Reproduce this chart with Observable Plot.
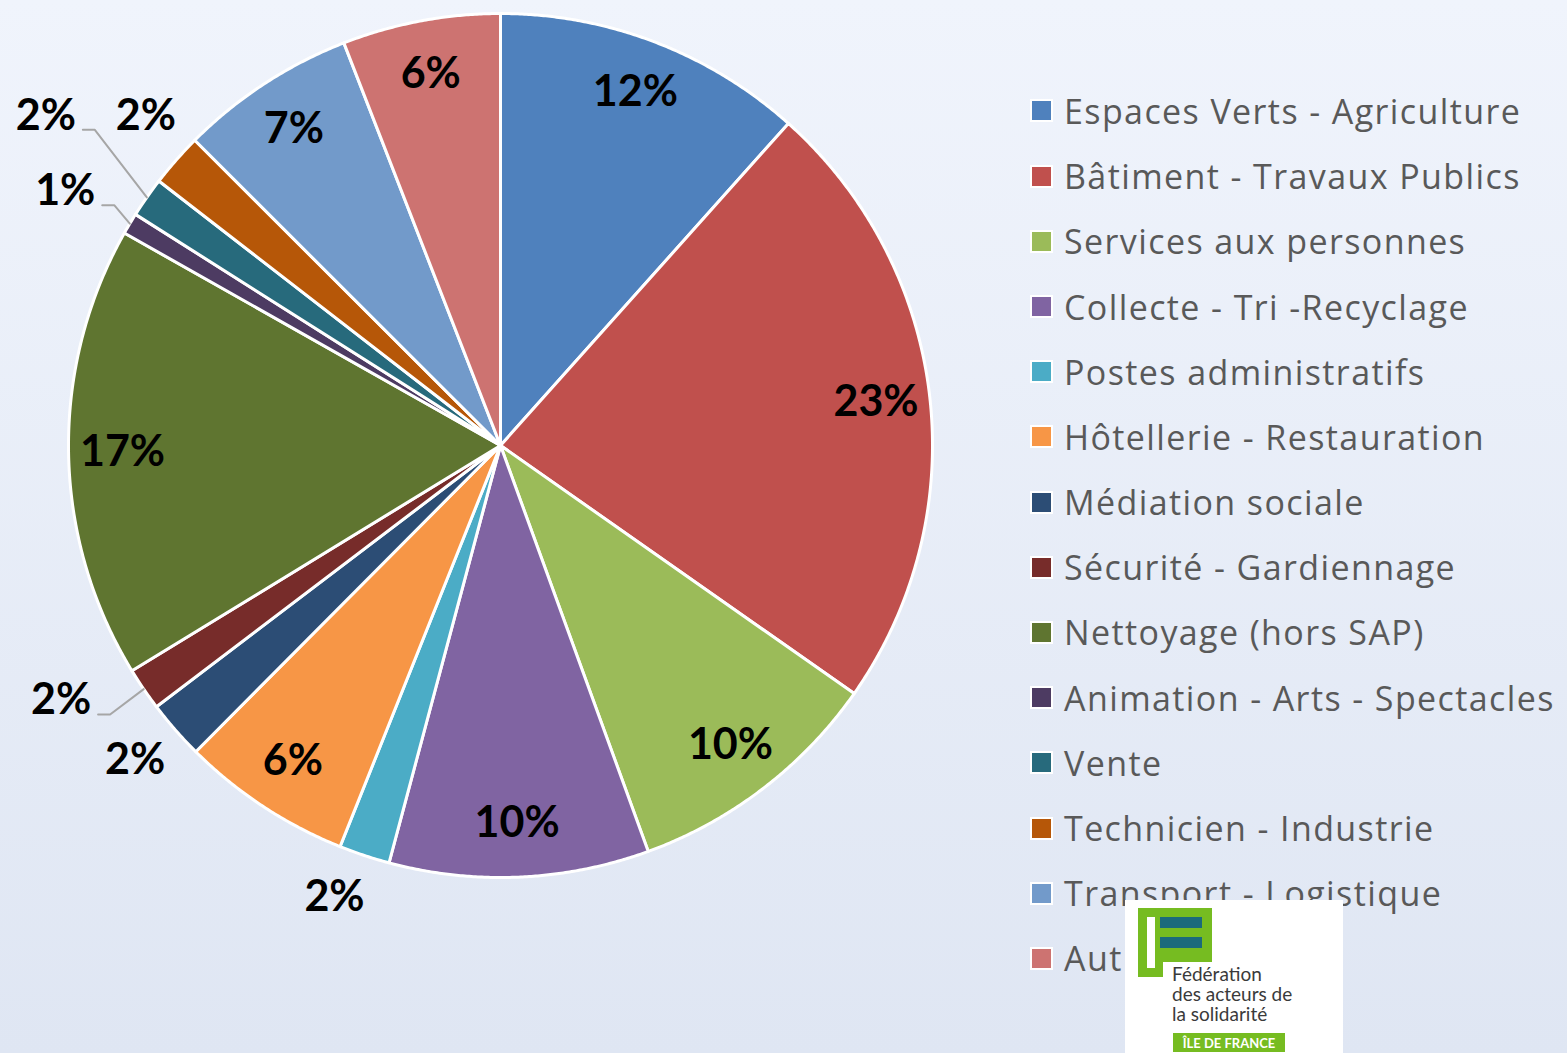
<!DOCTYPE html>
<html><head><meta charset="utf-8">
<script src="https://cdn.jsdelivr.net/npm/d3@7"></script>
<script src="https://cdn.jsdelivr.net/npm/@observablehq/plot@0.6"></script>
<style>
body{margin:0;}
#page{position:relative;width:1567px;height:1053px;overflow:hidden;background:linear-gradient(#F0F4FC,#DFE6F3);font-family:Lato,"Open Sans",sans-serif;}
#chart{position:absolute;left:0;top:0;}
#legend{position:absolute;left:1030px;top:78.4px;}
.row{height:65.2px;display:flex;align-items:center;white-space:nowrap;}
.sw{width:19px;height:19px;border:2.5px solid #fff;margin-right:11px;box-sizing:content-box;}
.lab{font-family:"Open Sans",sans-serif;font-size:34px;letter-spacing:1.4px;color:#595959;}
#logo{position:absolute;left:1125px;top:900px;width:218px;height:153px;background:#fff;}
</style></head>
<body><div id="page"><div id="chart"></div><div id="legend"></div>
<div id="logo">
<svg width="218" height="153" xmlns="http://www.w3.org/2000/svg">
<rect x="13" y="8" width="74" height="54" fill="#76BC21"/>
<rect x="13" y="8" width="25" height="69" fill="#76BC21"/>
<rect x="22" y="17" width="8" height="51" fill="#fff"/>
<rect x="35" y="17" width="42" height="11" fill="#1B6B7B"/>
<rect x="35" y="37" width="42" height="11" fill="#1B6B7B"/>
<text x="47" y="81" font-family="Lato" font-size="19" fill="#3a3a3a">Fédération</text>
<text x="47" y="101" font-family="Lato" font-size="19" fill="#3a3a3a">des acteurs de</text>
<text x="47" y="121" font-family="Lato" font-size="19" fill="#3a3a3a">la solidarité</text>
<rect x="48" y="133" width="112" height="19" fill="#76BC21"/>
<text x="104" y="148" font-family="Lato" font-weight="bold" font-size="13" fill="#fff" text-anchor="middle">ÎLE DE FRANCE</text>
</svg></div>
</div>
<script>
const categories = ["Espaces Verts - Agriculture","Bâtiment - Travaux Publics","Services aux personnes","Collecte - Tri -Recyclage","Postes administratifs","Hôtellerie - Restauration","Médiation sociale","Sécurité - Gardiennage","Nettoyage (hors SAP)","Animation - Arts - Spectacles","Vente","Technicien - Industrie","Transport - Logistique","Autre"];
const shares = [11.6, 23.1, 9.7, 9.7, 1.9, 6.4, 2.2, 1.6, 16.9, 0.8, 1.5, 2.0, 6.6, 5.9];
const colors = ["#4F81BD","#C0504D","#9BBB59","#8064A2","#4BACC6","#F79646","#2C4D75","#772C2A","#5F7530","#4D3B62","#276A7C","#B65708","#729ACA","#CD7371"];

// label layout (outside labels: radius factor, angle offset in degrees, leader line)
const outside = {
  "Postes administratifs": {r:1.114, da:1.8},
  "Médiation sociale": {r:1.117, da:0.4},
  "Sécurité - Gardiennage": {r:1.176, da:4.2, leader:true},
  "Animation - Arts - Spectacles": {r:1.167, da:-0.6, leader:true},
  "Vente": {r:1.30, da:0.9, leader:true},
  "Technicien - Industrie": {r:1.12, da:1.5}
};
const insideR = 0.875;

const data = categories.map((name,i)=>({name, value:shares[i]}));
const total = d3.sum(shares);
const arcs = d3.pie().sort(null).value(d=>d.value)(data);

const pt = (a,r)=>({x:Math.sin(a)*r, y:Math.cos(a)*r});
const slicePts = [];
for (const a of arcs) {
  const n = Math.max(2, Math.ceil((a.endAngle-a.startAngle)/0.005));
  slicePts.push({name:a.data.name, x:0, y:0});
  for (let k=0;k<=n;k++) {
    const t = a.startAngle + (a.endAngle-a.startAngle)*k/n;
    slicePts.push({name:a.data.name, ...pt(t,1)});
  }
  slicePts.push({name:a.data.name, x:0, y:0});
}
const K = 432; // px per unit radius
const labels = [], leaders = [];
for (const a of arcs) {
  const mid = (a.startAngle+a.endAngle)/2;
  const o = outside[a.data.name];
  const txt = Math.round(a.data.value/total*100) + "%";
  let p;
  if (o) p = pt(mid + o.da*Math.PI/180, o.r); else p = pt(mid, insideR);
  labels.push({name:a.data.name, text:txt, ...p});
  if (o && o.leader) {
    const s = {x:p.x + 37/K, y:p.y - 14/K};
    leaders.push({name:a.data.name, ...s});
    leaders.push({name:a.data.name, x:s.x + 12/K, y:s.y});
    leaders.push({name:a.data.name, ...pt(mid,1.0)});
  }
}

const W = 1000, H = 1053, cx = 500, cy = 445;
const chart = Plot.plot({
  width: W, height: H, margin: 0,
  x: {domain:[-cx/K, (W-cx)/K], axis:null},
  y: {domain:[-(H-cy)/K, cy/K], axis:null},
  color: {domain: categories, range: colors},
  style: {background:"transparent", fontFamily:"Lato, sans-serif", overflow:"visible"},
  marks: [
    Plot.line(slicePts, {x:"x", y:"y", z:"name", fill:"name", stroke:"white", strokeWidth:3, strokeLinejoin:"round"}),
    Plot.line(leaders, {x:"x", y:"y", z:"name", stroke:"#A6A6A6", strokeWidth:2}),
    Plot.text(labels, {x:"x", y:"y", text:"text", fontSize:43, fontWeight:"bold", fill:"black"})
  ]
});
document.getElementById("chart").appendChild(chart);

const leg = d3.select("#legend");
categories.forEach((c,i)=>{
  const row = leg.append("div").attr("class","row");
  row.append("div").attr("class","sw").style("background", colors[i]);
  row.append("div").attr("class","lab").text(c);
});
</script>
</body></html>
